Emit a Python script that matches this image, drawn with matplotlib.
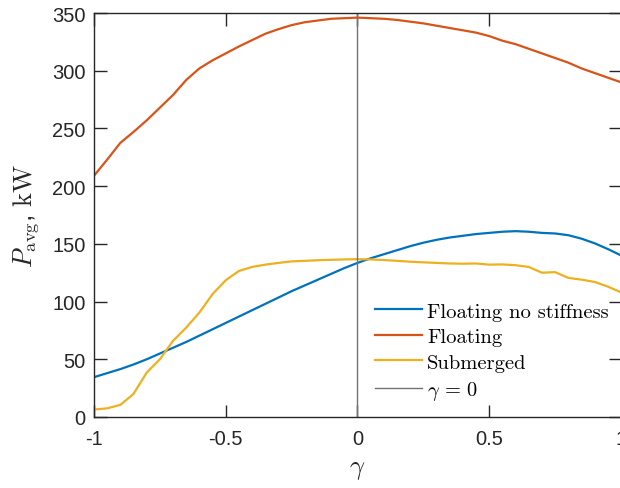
import numpy as np
import matplotlib
matplotlib.use("Agg")
import matplotlib.pyplot as plt

plt.rcParams["mathtext.fontset"] = "cm"
plt.rcParams["font.family"] = ["Liberation Sans", "DejaVu Sans"]
plt.rcParams["axes.unicode_minus"] = False

gamma = [-1.00, -0.95, -0.90, -0.85, -0.80, -0.75, -0.70, -0.65, -0.60, -0.55,
         -0.50, -0.45, -0.40, -0.35, -0.30, -0.25, -0.20, -0.15, -0.10, -0.05,
         0.00, 0.05, 0.10, 0.15, 0.20, 0.25, 0.30, 0.35, 0.40, 0.45,
         0.50, 0.55, 0.60, 0.65, 0.70, 0.75, 0.80, 0.85, 0.90, 0.95, 1.00]

p_floating_no_stiffness = [34.5, 38.0, 41.5, 45.5, 50.0, 55.0, 60.0, 65.0, 70.5, 76.0,
                           81.5, 87.0, 92.5, 98.0, 103.5, 109.0, 114.0, 119.0, 124.0, 129.0,
                           133.5, 137.5, 141.0, 144.5, 148.0, 151.0, 153.5, 155.5, 157.0, 158.5,
                           159.5, 160.5, 161.0, 160.5, 159.5, 159.0, 157.5, 154.5, 150.5, 145.5, 140.0]

p_floating = [209.0, 223.0, 237.5, 247.0, 257.0, 268.0, 279.0, 292.0, 302.0, 309.0,
              315.0, 321.0, 326.5, 332.0, 336.0, 339.5, 342.0, 343.5, 345.0, 345.5,
              346.0, 345.5, 345.0, 344.0, 342.5, 341.0, 339.0, 337.0, 335.0, 333.0,
              330.0, 326.0, 323.0, 319.0, 315.0, 311.0, 307.0, 302.0, 298.0, 294.0, 290.0]

p_submerged = [6.5, 7.5, 10.5, 20.0, 38.5, 50.0, 66.0, 77.5, 90.5, 106.5,
               118.5, 126.5, 130.0, 132.0, 133.5, 134.8, 135.3, 135.8, 136.2, 136.5,
               136.7, 136.5, 136.0, 135.3, 134.5, 134.0, 133.5, 133.0, 132.8, 133.0,
               132.0, 132.2, 131.5, 130.0, 125.0, 125.5, 120.5, 119.0, 117.0, 113.0, 108.0]

series_labels = ["Floating no stiffness", "Floating", "Submerged"]
series_colors = ["#0072BD", "#D95319", "#EDB120"]

x_ticks = [-1, -0.5, 0, 0.5, 1]
x_tick_labels = ["-1", "-0.5", "0", "0.5", "1"]
y_ticks = [0, 50, 100, 150, 200, 250, 300, 350]

fig = plt.figure(figsize=(6.2, 4.89), dpi=100)
ax = fig.add_axes([94 / 620, 71 / 489, 527 / 620, 404 / 489])

for vals, lab, col in zip([p_floating_no_stiffness, p_floating, p_submerged],
                          series_labels, series_colors):
    ax.plot(gamma, vals, color=col, lw=1.6, label=lab)
ax.axvline(0, color="0.45", lw=1.0, label=r"$\gamma\,=\,0$")

ax.set_xlim(-1, 1)
ax.set_ylim(0, 350)
ax.set_xticks(x_ticks)
ax.set_xticklabels(x_tick_labels)
ax.set_yticks(y_ticks)

axis_col = "0.15"
for s in ax.spines.values():
    s.set_color(axis_col)
    s.set_linewidth(1.0)
ax.tick_params(direction="in", length=9, width=1.0, color=axis_col,
               labelcolor=axis_col, labelsize=14.5, top=True, right=True)
ax.tick_params(axis="x", pad=9)
ax.tick_params(axis="y", pad=6)

ax.set_xlabel(r"$\gamma$", fontsize=19, color=axis_col, labelpad=6)
ax.set_ylabel(r"$P_{\rm avg}$, $\rm kW$", fontsize=19, color=axis_col, labelpad=8)

leg = ax.legend(loc="lower right", bbox_to_anchor=(1.012, -0.008), frameon=False,
                prop={"family": "cmr10", "size": 14.75},
                handlelength=2.3, handletextpad=0.25, labelspacing=0.35,
                borderaxespad=0.5)

fig.savefig("out.png", dpi=100)
